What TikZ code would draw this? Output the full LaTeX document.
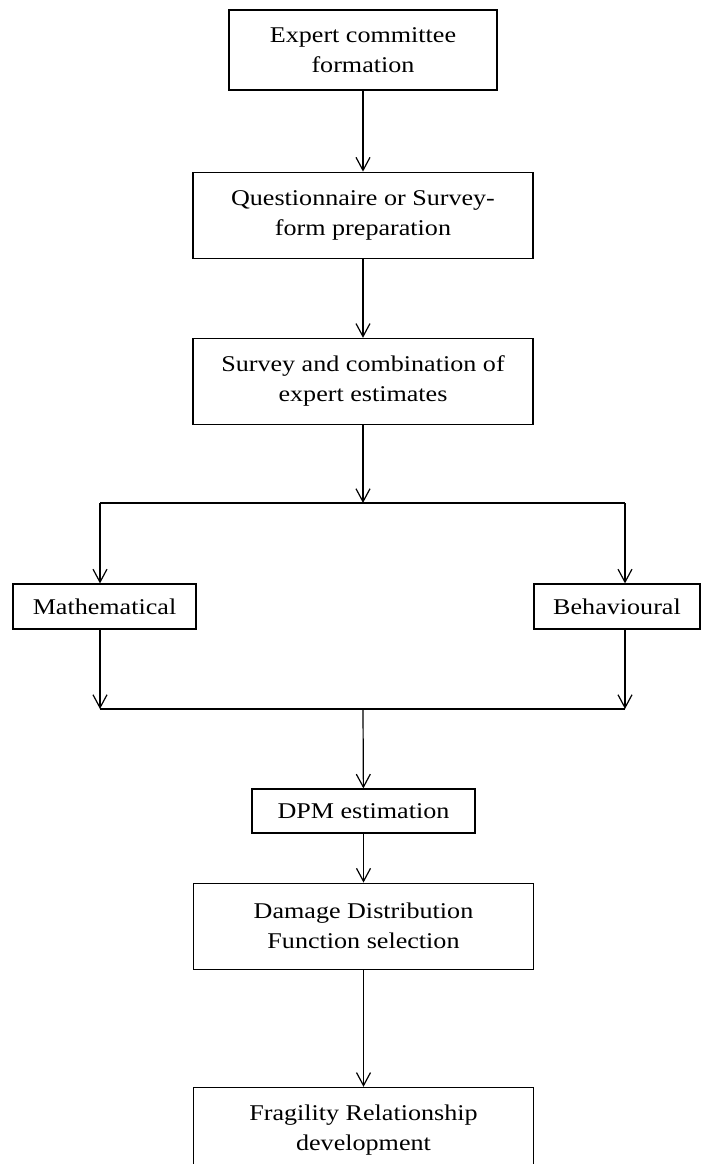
\documentclass[tikz,border=0pt]{standalone}
\usepackage{fontspec}
\setmainfont[FakeStretch=1.16]{Liberation Serif}
\usetikzlibrary{positioning,arrows.meta}

\begin{document}
\begin{tikzpicture}
    [ x = 1pt, y = -1pt
    , box/.style =
      { draw, line width=1.2pt, align=center, inner sep=0pt
      , font=\fontsize{22.5}{30}\selectfont }
    , wide/.style =
      { box, minimum width=340pt, minimum height=86pt }
    , link/.style =
      { line width=1.2pt }
    , arr/.style =
      { link, -{Straight Barb[length=13pt,width=14pt]} }
    ]
    \useasboundingbox (0,0) rectangle (707,1164);
    \clip (0,0) rectangle (707,1164);

    \node [box, minimum width=268pt, minimum height=80pt] (committee) at (363,50) {Expert committee\\formation};
    \node [wide] (questionnaire) [below=81pt of committee] {Questionnaire or Survey-\\form preparation};
    \node [wide] (survey) [below=79pt of questionnaire] {Survey and combination of\\expert estimates};
    \node [box, minimum width=183pt, minimum height=45pt] (math) at (104.5,606.5) {Mathematical};
    \node [box, minimum width=166pt, minimum height=45pt] (behav) at (617,606.5) {Behavioural};
    \node [box, minimum width=223pt, minimum height=44pt] (dpm) at (363.5,811) {DPM estimation};
    \node [wide] (ddf) [below=49pt of dpm] {Damage Distribution\\Function selection};
    \node [wide] (fragility) [below=117pt of ddf] {Fragility Relationship\\development};

    \coordinate (split) at (363,503);
    \coordinate (lsplit) at (100,503);
    \coordinate (rsplit) at (625,503);
    \coordinate (merge) at (363,709);

    \draw [arr] (committee) -- (questionnaire);
    \draw [arr] (questionnaire) -- (survey);
    \draw [arr] (survey) -- (split);
    \draw [link] (lsplit) -- (rsplit);
    \draw [arr] (lsplit) -- (lsplit |- math.north);
    \draw [arr] (rsplit) -- (rsplit |- behav.north);
    \draw [arr] (lsplit |- math.south) -- (lsplit |- merge);
    \draw [arr] (rsplit |- behav.south) -- (rsplit |- merge);
    \draw [link] (lsplit |- merge) -- (rsplit |- merge);
    \draw [arr] (merge) -- (dpm);
    \draw [arr] (dpm) -- (ddf);
    \draw [arr] (ddf) -- (fragility);
\end{tikzpicture}
\end{document}
